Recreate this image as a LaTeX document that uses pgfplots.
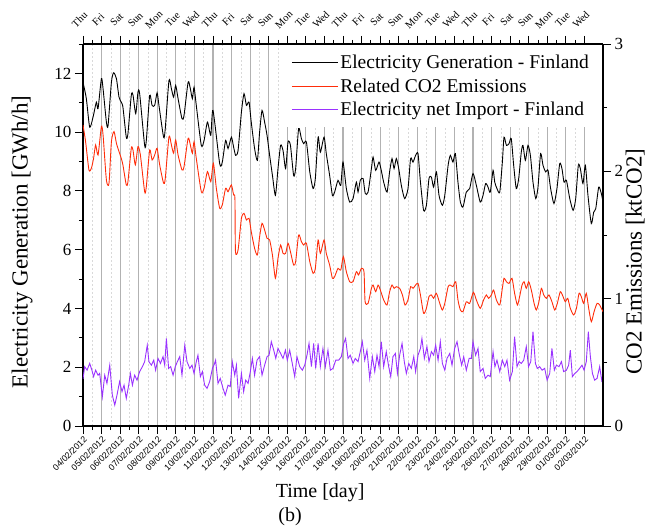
\documentclass[border=0pt]{standalone}
\usepackage{pgfplots}
\pgfplotsset{compat=1.18}
\usepackage{fontspec}
\setmainfont{Liberation Serif}
\setsansfont{Liberation Sans}
\definecolor{cored}{HTML}{FF2D0A}
\definecolor{impurple}{HTML}{9A32FF}
\begin{document}
\begin{tikzpicture}
\begin{axis}[
  scale only axis, width=520pt, height=382pt,
  xmin=0, xmax=28, ymin=0, ymax=13,
  axis x line*=bottom, axis y line*=left,
  axis line style={line width=1.1pt},
  xtick={0,...,27},
  xticklabels={04/02/2012,05/02/2012,06/02/2012,07/02/2012,08/02/2012,09/02/2012,10/02/2012,11/02/2012,12/02/2012,13/02/2012,14/02/2012,15/02/2012,16/02/2012,17/02/2012,18/02/2012,19/02/2012,20/02/2012,21/02/2012,22/02/2012,23/02/2012,24/02/2012,25/02/2012,26/02/2012,27/02/2012,28/02/2012,29/02/2012,01/03/2012,02/03/2012},
  x tick label style={rotate=45, anchor=north east, inner sep=1pt, font=\sffamily\fontsize{8.8}{9}\selectfont},
  minor x tick num=1,
  ytick={0,2,...,12}, minor ytick={1,3,...,13},
  tick align=outside, major tick length=8pt, minor tick length=4pt,
  tick style={black, line width=0.9pt},
  xmajorgrids, xminorgrids,
  major grid style={gray!60, line width=1.2pt},
  minor grid style={gray!30, line width=0.5pt, dash pattern=on 2pt off 2pt},
  y tick label style={font=\fontsize{17}{20}\selectfont},
  /pgf/number format/assume math mode=true,
  ylabel={Electricity Generation [GWh/h]},
  ylabel style={font=\fontsize{23}{26}\selectfont, at={(axis description cs:-0.117,0.482)}, anchor=center},
  xlabel={Time [day]},
  xlabel style={font=\fontsize{20}{24}\selectfont, at={(axis description cs:0.456,-0.175)}, anchor=center},
]
\addplot[black, line width=0.9pt, smooth, tension=0.4] table {
0.00 11.70
0.18 11.14
0.36 10.17
0.54 10.51
0.72 11.02
0.81 10.80
0.99 11.82
1.08 11.48
1.26 10.34
1.35 10.23
1.53 11.70
1.65 12.02
1.80 11.82
1.94 11.19
2.06 11.02
2.15 10.85
2.33 9.83
2.42 9.95
2.60 11.25
2.69 11.27
2.84 10.63
2.96 11.36
3.05 11.31
3.32 9.55
3.41 9.72
3.59 11.25
3.72 10.91
3.86 10.91
3.99 11.34
4.09 10.91
4.34 9.83
4.43 10.12
4.63 11.76
4.76 11.48
4.88 11.19
4.99 11.59
5.12 11.14
5.33 10.46
5.44 10.57
5.66 11.70
5.78 11.48
5.89 11.14
5.98 11.53
6.10 10.91
6.37 9.55
6.52 9.72
6.70 10.34
6.88 9.89
7.00 10.74
7.36 8.93
7.50 8.98
7.68 9.72
7.81 9.44
7.99 9.83
8.11 9.49
8.22 9.21
8.35 9.38
8.53 10.68
8.67 11.31
8.80 10.91
8.94 11.02
9.06 10.34
9.24 9.44
9.39 9.04
9.51 10.00
9.64 10.74
9.78 10.34
9.91 9.89
10.05 9.21
10.20 8.53
10.36 7.85
10.50 8.76
10.64 9.55
10.77 9.38
10.91 8.76
11.04 9.66
11.17 9.55
11.34 8.53
11.45 8.76
11.61 10.12
11.76 9.78
11.88 9.61
12.03 9.66
12.21 8.65
12.39 8.08
12.51 8.42
12.66 9.83
12.78 9.32
12.98 9.83
13.10 9.27
13.28 8.53
13.43 7.85
13.55 7.96
13.73 8.36
13.88 8.19
14.00 8.98
14.18 8.08
14.36 7.62
14.54 7.74
14.72 8.30
14.81 7.96
14.93 8.36
15.08 8.42
15.20 7.91
15.35 7.96
15.53 8.76
15.62 9.15
15.76 8.70
15.94 8.98
16.06 8.70
16.19 8.30
16.37 7.96
16.51 8.65
16.64 9.10
16.75 8.76
16.87 9.10
17.00 8.76
17.14 8.19
17.32 7.74
17.50 8.08
17.64 9.10
17.77 8.98
17.91 9.21
18.04 9.27
18.17 8.30
18.34 7.34
18.49 7.51
18.63 8.42
18.76 8.47
18.88 8.13
19.03 8.65
19.17 7.85
19.35 7.51
19.48 7.85
19.66 8.87
19.78 9.21
19.92 8.98
20.05 9.27
20.19 8.30
20.32 7.62
20.46 7.45
20.64 7.96
20.82 8.08
21.00 8.59
21.18 8.19
21.39 7.62
21.54 7.85
21.68 8.25
21.81 8.13
21.93 7.96
22.08 8.70
22.17 8.30
22.29 8.08
22.44 7.96
22.58 8.98
22.67 9.83
22.80 9.55
22.94 9.61
23.06 9.78
23.19 8.87
23.33 8.08
23.46 8.42
23.60 9.32
23.69 9.55
23.82 9.04
23.96 9.55
24.09 9.21
24.23 8.30
24.38 7.74
24.50 8.13
24.64 9.27
24.77 8.87
24.91 8.65
25.04 8.70
25.18 8.08
25.36 7.57
25.52 8.08
25.67 8.93
25.79 8.76
25.90 8.30
26.03 8.36
26.21 7.74
26.39 7.34
26.53 7.74
26.67 8.87
26.78 8.76
26.92 8.25
27.05 8.87
27.19 7.85
27.37 6.89
27.50 7.28
27.61 7.40
27.77 8.13
27.91 7.91
28.00 7.62
};
\addplot[impurple, line width=0.9pt] table {
0.00 1.60
0.09 2.02
0.22 1.90
0.36 2.13
0.48 1.90
0.57 1.68
0.68 1.90
0.81 1.73
0.90 1.79
1.04 0.99
1.17 1.73
1.29 1.45
1.44 2.07
1.58 1.05
1.71 0.71
1.83 1.05
1.97 1.51
2.10 1.17
2.21 1.39
2.33 0.94
2.46 1.39
2.55 1.79
2.66 1.39
2.78 1.73
2.91 1.56
3.05 1.85
3.20 2.02
3.32 2.19
3.46 2.75
3.55 2.19
3.68 2.07
3.81 2.24
3.91 1.90
4.04 2.30
4.17 2.13
4.31 2.36
4.40 2.07
4.49 2.98
4.61 1.96
4.72 2.02
4.85 1.73
4.97 2.02
5.08 2.19
5.21 2.36
5.33 1.73
5.48 2.75
5.60 2.19
5.75 1.96
5.87 2.07
5.98 1.79
6.10 2.19
6.19 2.41
6.32 1.68
6.43 1.85
6.55 1.39
6.68 1.28
6.82 1.51
6.97 1.96
7.07 2.10
7.14 2.24
7.27 1.45
7.39 1.62
7.54 1.28
7.66 1.05
7.81 1.39
7.93 1.34
8.04 2.19
8.17 1.73
8.26 2.07
8.38 0.94
8.53 1.79
8.65 1.17
8.76 1.56
8.89 1.45
9.01 1.85
9.12 2.30
9.24 1.73
9.37 2.24
9.51 2.36
9.64 1.73
9.78 2.07
9.91 2.36
10.02 2.41
10.14 2.87
10.27 2.58
10.38 2.30
10.50 2.64
10.64 2.47
10.77 2.30
10.90 2.58
11.00 2.24
11.13 2.58
11.25 2.19
11.40 1.68
11.52 2.36
11.67 2.02
11.81 1.90
11.94 2.07
12.06 2.41
12.17 2.81
12.30 2.02
12.42 2.81
12.53 1.96
12.66 2.81
12.78 2.02
12.92 2.64
13.05 2.02
13.19 2.58
13.32 1.90
13.46 1.96
13.61 2.24
13.77 2.24
13.91 2.36
14.04 2.81
14.14 2.98
14.27 2.30
14.39 2.41
14.54 2.13
14.66 2.30
14.81 2.19
14.93 2.53
15.04 2.87
15.17 2.24
15.29 2.58
15.44 1.62
15.58 2.36
15.71 1.85
15.83 2.41
15.94 2.02
16.06 2.87
16.19 2.02
16.33 2.53
16.46 2.02
16.57 1.68
16.69 2.36
16.82 2.47
16.93 1.79
17.05 2.41
17.18 2.81
17.30 2.19
17.41 1.79
17.54 2.13
17.68 1.96
17.81 2.36
17.91 1.85
18.04 2.41
18.17 2.64
18.25 2.98
18.38 2.30
18.52 2.70
18.63 2.19
18.76 2.53
18.88 2.41
18.99 2.75
19.12 2.24
19.24 2.87
19.35 2.13
19.48 1.90
19.60 2.30
19.75 2.47
19.87 2.07
20.01 2.64
20.14 2.87
20.27 2.41
20.39 2.07
20.50 2.36
20.64 1.90
20.79 2.30
20.91 2.30
21.00 2.87
21.14 2.41
21.27 2.64
21.39 1.85
21.54 1.96
21.66 1.62
21.81 1.73
21.93 1.68
22.08 2.53
22.18 2.02
22.29 2.24
22.44 1.85
22.58 2.24
22.71 2.02
22.83 2.24
22.97 1.56
23.12 1.85
23.24 3.04
23.37 2.02
23.48 2.19
23.60 2.13
23.73 2.24
23.87 2.70
23.99 2.02
24.11 2.19
24.23 3.21
24.36 2.13
24.46 1.96
24.59 2.02
24.72 1.90
24.86 1.96
24.99 1.56
25.13 1.79
25.25 2.64
25.38 1.90
25.49 2.07
25.63 2.02
25.76 2.19
25.88 1.85
26.03 1.90
26.15 2.07
26.24 2.58
26.35 1.68
26.48 1.79
26.60 1.85
26.74 1.96
26.87 2.07
26.98 1.90
27.10 2.19
27.21 3.21
27.32 2.36
27.43 1.79
27.55 1.56
27.68 1.62
27.82 2.02
27.93 1.56
28.00 1.73
};
\end{axis}
\begin{axis}[
  scale only axis, width=520pt, height=382pt,
  xmin=0, xmax=28, ymin=0, ymax=3,
  axis x line*=top, axis y line*=right,
  axis line style={line width=1.1pt},
  xtick={0,...,27},
  xticklabels={Thu,Fri,Sat,Sun,Mon,Tue,Wed,Thu,Fri,Sat,Sun,Mon,Tue,Wed,Thu,Fri,Sat,Sun,Mon,Tue,Wed,Thu,Fri,Sat,Sun,Mon,Tue,Wed},
  xticklabel shift=13pt,
  x tick label style={rotate=45, anchor=south, inner sep=1pt, font=\fontsize{10.5}{11}\selectfont},
  minor x tick num=1,
  ytick={0,1,2,3}, minor ytick={0.5,1.5,2.5},
  tick align=outside, major tick length=8pt, minor tick length=4pt,
  tick style={black, line width=0.9pt},
  y tick label style={font=\fontsize{17}{20}\selectfont},
  /pgf/number format/assume math mode=true,
  ylabel={CO2 Emissions [ktCO2]},
  ylabel style={font=\fontsize{23}{26}\selectfont, at={(axis description cs:1.062,0.43)}, anchor=center},
  legend style={at={(1,1)}, anchor=north east, xshift=-0.9pt, yshift=-0.9pt, draw=none, fill=white,
    font=\fontsize{19.5}{22}\selectfont, inner xsep=11pt, inner ysep=8pt,
    row sep=4.5pt, cells={anchor=west}},
  legend image code/.code={\draw[#1, line width=0.9pt] (0pt,0pt) -- (46pt,0pt);},
]
\addlegendimage{black}
\addlegendentry{Electricity Generation - Finland}
\addplot[cored, line width=0.9pt, smooth, tension=0.4] table {
0.00 2.364
0.14 2.233
0.32 2.011
0.45 2.024
0.57 2.102
0.68 2.207
0.81 2.128
0.99 2.351
1.08 2.286
1.26 1.932
1.40 1.906
1.53 2.233
1.67 2.312
1.80 2.220
1.94 2.155
2.06 2.102
2.15 2.050
2.33 1.893
2.42 1.919
2.60 2.181
2.69 2.168
2.82 2.050
2.96 2.194
3.09 2.128
3.32 1.840
3.41 1.880
3.59 2.168
3.72 2.089
3.86 2.128
3.99 2.181
4.13 2.050
4.34 1.906
4.43 1.945
4.63 2.272
4.76 2.207
4.88 2.142
4.99 2.246
5.12 2.128
5.33 2.011
5.44 2.037
5.66 2.259
5.78 2.207
5.89 2.142
5.98 2.233
6.10 2.102
6.37 1.840
6.52 1.867
6.70 1.998
6.88 1.919
7.02 2.063
7.18 1.867
7.36 1.710
7.50 1.736
7.68 1.867
7.81 1.840
7.99 1.893
8.11 1.814
8.18 1.788
8.21 1.369
8.35 1.382
8.53 1.631
8.67 1.670
8.80 1.618
8.94 1.631
9.06 1.526
9.24 1.395
9.39 1.343
9.51 1.487
9.64 1.592
9.78 1.539
9.91 1.474
10.05 1.461
10.20 1.343
10.36 1.160
10.50 1.317
10.64 1.421
10.77 1.356
10.91 1.356
11.04 1.435
11.17 1.369
11.34 1.264
11.45 1.291
11.61 1.500
11.76 1.448
11.88 1.421
12.03 1.435
12.21 1.291
12.39 1.199
12.51 1.238
12.66 1.461
12.78 1.356
12.98 1.461
13.10 1.356
13.28 1.264
13.43 1.160
13.55 1.173
13.73 1.238
13.88 1.225
14.02 1.330
14.18 1.212
14.36 1.133
14.54 1.133
14.72 1.212
14.84 1.186
14.99 1.238
15.13 1.212
15.19 0.976
15.35 0.963
15.53 1.081
15.62 1.107
15.76 1.055
15.89 1.107
16.01 1.068
16.19 0.990
16.37 0.950
16.51 1.055
16.64 1.107
16.75 1.081
16.87 1.094
17.05 1.081
17.20 1.029
17.34 0.950
17.50 0.990
17.64 1.094
17.77 1.081
17.91 1.107
18.04 1.120
18.17 1.029
18.34 0.885
18.49 0.924
18.63 1.016
18.76 1.029
18.88 1.003
19.03 1.042
19.21 0.963
19.35 0.911
19.48 0.963
19.66 1.094
19.78 1.107
19.92 1.094
20.07 1.133
20.19 0.990
20.32 0.911
20.46 0.898
20.64 0.976
20.82 0.963
21.02 1.050
21.18 0.990
21.39 0.924
21.57 0.990
21.72 1.029
21.84 1.003
21.99 1.029
22.11 1.068
22.26 0.990
22.44 0.950
22.58 1.081
22.67 1.160
22.80 1.133
22.94 1.120
23.10 1.160
23.24 1.042
23.39 0.950
23.51 1.016
23.64 1.107
23.75 1.133
23.87 1.081
24.00 1.133
24.14 1.068
24.29 0.963
24.41 0.911
24.55 0.976
24.68 1.081
24.81 1.029
24.95 1.003
25.09 1.029
25.25 0.976
25.40 0.911
25.54 0.963
25.70 1.055
25.85 1.016
25.97 0.976
26.10 1.003
26.24 0.924
26.42 0.872
26.57 0.924
26.71 1.042
26.83 1.016
26.96 0.963
27.10 1.042
27.23 0.924
27.37 0.819
27.52 0.898
27.68 0.963
27.82 0.950
28.00 0.898
};
\addlegendentry{Related CO2 Emissions}
\addlegendimage{impurple}
\addlegendentry{Electricity net Import - Finland}
\end{axis}
\node[font=\fontsize{20}{24}\selectfont] at ([shift={(207pt,-91pt)}]current axis.south west) {(b)};
\pgfresetboundingbox
\path[use as bounding box] ([shift={(-83pt,-103pt)}]current axis.south west) rectangle ([shift={(52pt,44pt)}]current axis.north east);
\end{tikzpicture}
\end{document}
